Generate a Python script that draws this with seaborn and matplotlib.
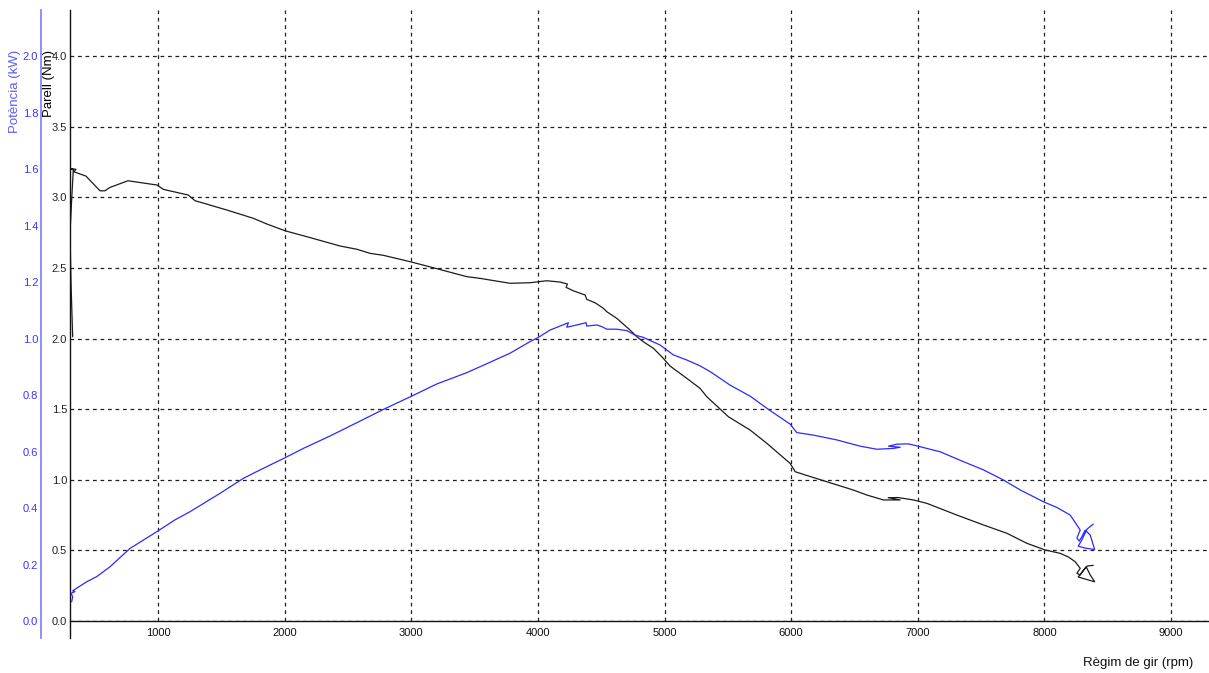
import numpy as np
import pandas as pd
import matplotlib
matplotlib.use("Agg")
import matplotlib.pyplot as plt
import seaborn as sns
from matplotlib.ticker import MultipleLocator, FormatStrFormatter

# ---- data ----
torque_rpm = [326, 313, 305, 318, 331, 305, 352, 336, 384, 431, 542, 581, 621, 763, 937, 992,
              1042, 1239, 1292, 1543, 1753, 1859, 2003, 2175, 2438, 2570, 2675, 2780, 2991,
              3175, 3438, 3543, 3780, 3938, 4070, 4175, 4233, 4223, 4280, 4373, 4386, 4452,
              4517, 4544, 4623, 4728, 4781, 4833, 4912, 4979, 5044, 5176, 5281, 5334, 5505,
              5676, 5808, 5992, 6032, 6111, 6282, 6492, 6598, 6729, 6861, 6766, 6845, 6966,
              7072, 7309, 7519, 7704, 7862, 8006, 8125, 8190, 8243, 8283, 8257, 8283, 8309,
              8330, 8362, 8397, 8322, 8267, 8299, 8338, 8386]
torque_nm = [2.013, 2.393, 2.747, 2.981, 3.193, 3.205, 3.198, 3.181, 3.165, 3.150, 3.046, 3.046,
             3.070, 3.117, 3.094, 3.087, 3.056, 3.016, 2.976, 2.910, 2.851, 2.811, 2.763, 2.721,
             2.655, 2.632, 2.603, 2.589, 2.544, 2.501, 2.438, 2.426, 2.391, 2.395, 2.409, 2.400,
             2.386, 2.362, 2.338, 2.308, 2.277, 2.253, 2.214, 2.190, 2.143, 2.060, 2.013, 1.977,
             1.931, 1.871, 1.805, 1.718, 1.647, 1.588, 1.446, 1.352, 1.258, 1.116, 1.057, 1.034,
             0.986, 0.927, 0.892, 0.857, 0.857, 0.873, 0.874, 0.857, 0.833, 0.750, 0.680, 0.621,
             0.550, 0.503, 0.479, 0.453, 0.420, 0.373, 0.338, 0.326, 0.361, 0.384, 0.326, 0.278,
             0.297, 0.312, 0.347, 0.389, 0.394]

power_rpm = [318, 326, 313, 344, 326, 358, 437, 516, 621, 779, 990, 1134, 1253, 1490, 1674, 1780,
             2003, 2148, 2359, 2570, 2780, 3017, 3201, 3438, 3622, 3780, 3938, 4004, 4096, 4175,
             4241, 4228, 4307, 4381, 4386, 4465, 4505, 4544, 4623, 4702, 4768, 4833, 4965, 5070,
             5176, 5281, 5360, 5518, 5676, 5821, 5992, 6045, 6176, 6361, 6545, 6677, 6808, 6861,
             6769, 6835, 6927, 7019, 7177, 7361, 7519, 7677, 7809, 7993, 8099, 8204, 8283, 8257,
             8275, 8299, 8322, 8362, 8397, 8322, 8267, 8291, 8338, 8386]
power_kw = [0.068, 0.086, 0.098, 0.104, 0.107, 0.116, 0.139, 0.157, 0.192, 0.257, 0.316, 0.358,
            0.387, 0.452, 0.505, 0.529, 0.578, 0.611, 0.655, 0.702, 0.749, 0.799, 0.839, 0.879,
            0.916, 0.948, 0.989, 1.004, 1.030, 1.044, 1.056, 1.040, 1.048, 1.056, 1.044, 1.048,
            1.042, 1.033, 1.033, 1.028, 1.012, 1.004, 0.977, 0.942, 0.924, 0.903, 0.883, 0.835,
            0.796, 0.749, 0.697, 0.667, 0.658, 0.641, 0.619, 0.608, 0.611, 0.615, 0.619, 0.626,
            0.627, 0.617, 0.599, 0.564, 0.535, 0.499, 0.464, 0.422, 0.402, 0.375, 0.322, 0.294,
            0.283, 0.301, 0.322, 0.304, 0.253, 0.258, 0.265, 0.283, 0.326, 0.343]

torque_ticks = [0.0, 0.5, 1.0, 1.5, 2.0, 2.5, 3.0, 3.5, 4.0]
power_ticks = [0.0, 0.2, 0.4, 0.6, 0.8, 1.0, 1.2, 1.4, 1.6, 1.8, 2.0]
rpm_ticks = [1000, 2000, 3000, 4000, 5000, 6000, 7000, 8000, 9000]

x_label = "Règim de gir (rpm)"
torque_label = "Parell (Nm)"
power_label = "Potència (kW)"

# ---- style ----
sns.set_style("white")
plt.rcParams["font.family"] = ["Liberation Sans", "DejaVu Sans"]

W, H = 1209, 673
fig = plt.figure(figsize=(W / 100, H / 100), dpi=100)
ax = fig.add_axes([70 / W, 1 - 621 / H, 1 - 70 / W, (621 - 10) / H])
ax2 = ax.twinx()

sns.lineplot(x=torque_rpm, y=torque_nm, sort=False, estimator=None, ax=ax,
             color="#1c1c1c", linewidth=0.9)
sns.lineplot(x=power_rpm, y=power_kw, sort=False, estimator=None, ax=ax2,
             color="#2a2aff", linewidth=0.9)

ax.set_xlim(305, 9300)
ax.set_ylim(0, 4.326)
ax2.set_ylim(0, 2.163)
for a in (ax, ax2):
    a.set_xlabel("")
    a.set_ylabel("")
    a.set_facecolor("none")

# grid
ax.set_axisbelow(True)
ax.grid(True, which="major", color="#202020", linestyle=(0, (3, 3)), linewidth=0.9)

# x axis
ax.set_xticks(rpm_ticks)
ax.set_xticklabels([str(v) for v in rpm_ticks])
ax.xaxis.set_minor_locator(MultipleLocator(200))
ax.tick_params(axis="x", which="both", direction="out", length=3, width=0.8,
               labelsize=8, pad=2, colors="#111111")

# torque axis
ax.set_yticks(torque_ticks)
ax.set_yticklabels([f"{v:.1f}" for v in torque_ticks])
ax.tick_params(axis="y", length=0, pad=2, labelsize=8, labelcolor="#222222")

for s in ("top", "right"):
    ax.spines[s].set_visible(False)
ax.spines["left"].set_color("#111111")
ax.spines["left"].set_linewidth(1.0)
ax.spines["bottom"].set_color("#111111")
ax.spines["bottom"].set_linewidth(1.0)
ax.spines["left"].set_bounds(-0.12, 4.326)

# power axis on the left, offset
ax2.yaxis.tick_left()
ax2.set_yticks(power_ticks)
ax2.set_yticklabels([f"{v:.1f}" for v in power_ticks])
ax2.tick_params(axis="y", length=0, pad=2, labelsize=8, labelcolor="#3535ff")
for s in ("top", "right", "bottom"):
    ax2.spines[s].set_visible(False)
ax2.spines["left"].set_visible(True)
ax2.spines["left"].set_position(("outward", 29 * 0.72))
ax2.spines["left"].set_color("#7d7dff")
ax2.spines["left"].set_linewidth(1.2)
ax2.spines["left"].set_bounds(-0.06, 2.163)

# labels
fig.text(15 / W, 1 - 50 / H, power_label, rotation=90, ha="center", va="top",
         color="#5a5aff", fontsize=9.5)
fig.text(49 / W, 1 - 50 / H, torque_label, rotation=90, ha="center", va="top",
         color="black", fontsize=9.5)
fig.text(1193 / W, 1 - 663 / H, x_label, ha="right", va="center",
         color="#111111", fontsize=9.5)

fig.savefig("out.png", dpi=100, facecolor="white")
